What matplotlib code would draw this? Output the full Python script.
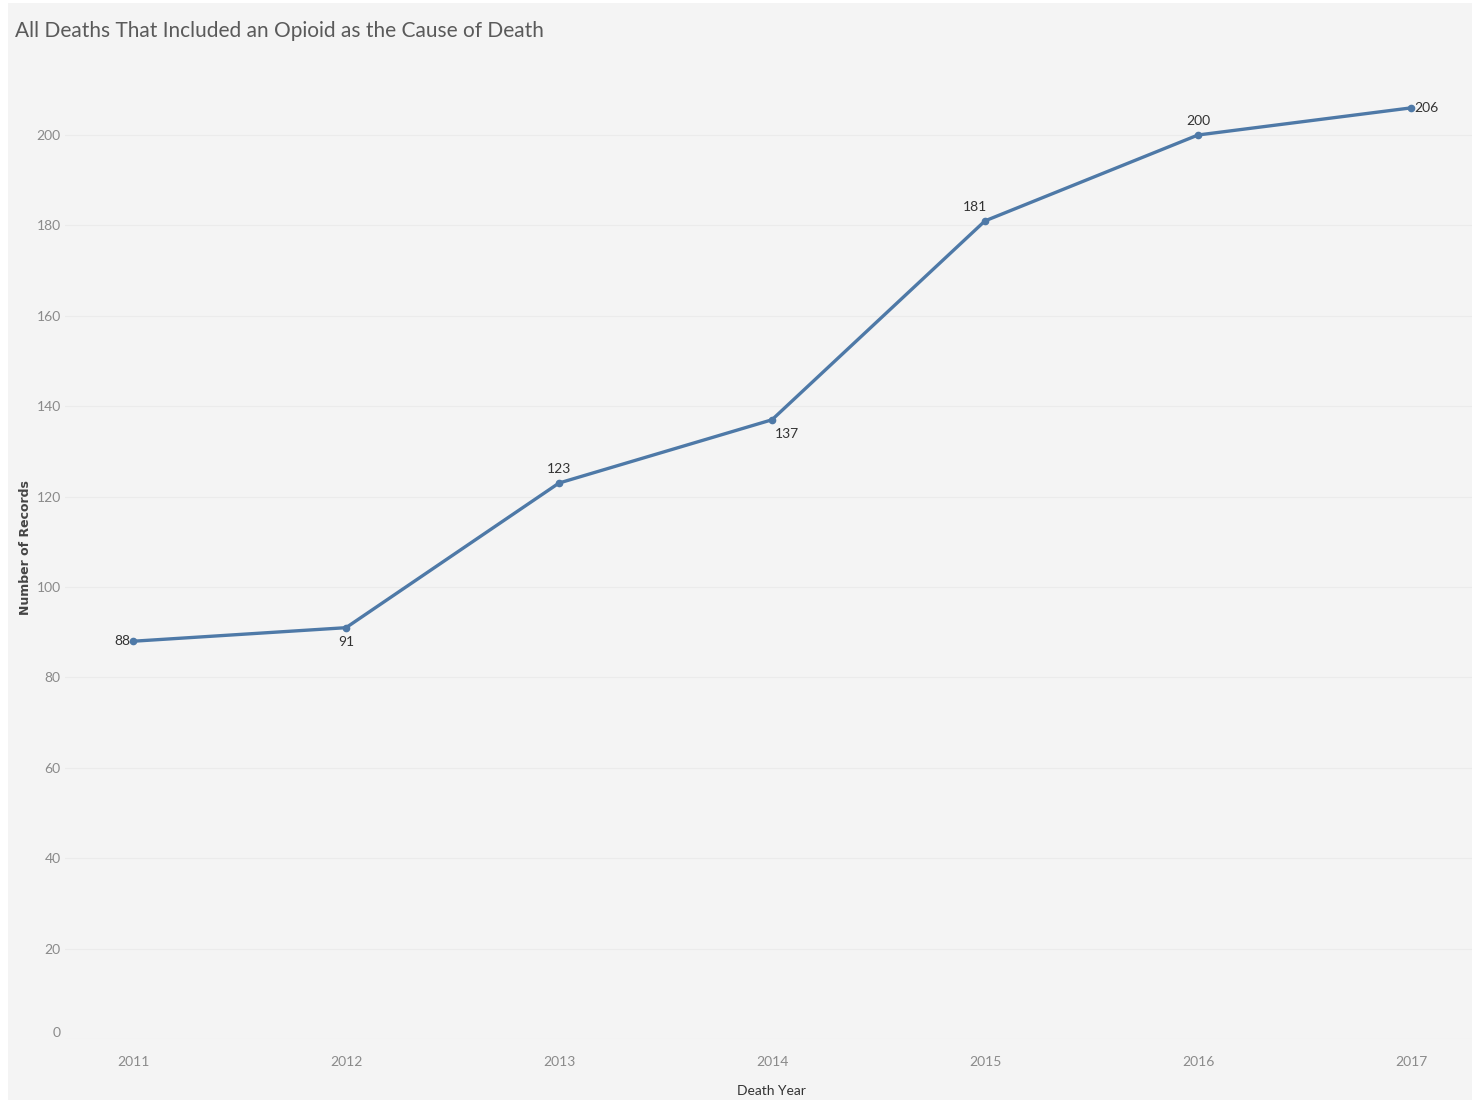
import matplotlib.pyplot as plt
import matplotlib.patches as mpatches
from matplotlib import font_manager

# Death counts by year
years = [2011, 2012, 2013, 2014, 2015, 2016, 2017]
records = [88, 91, 123, 137, 181, 200, 206]
yticks = [0, 20, 40, 60, 80, 100, 120, 140, 160, 180, 200]

# label offsets in pixels (dx, dy, ha, va)
label_pos = [
    (-3, 0, 'right', 'center'),
    (0, -8, 'center', 'top'),
    (0, 8, 'center', 'bottom'),
    (3, -8, 'left', 'top'),
    (-10, 8, 'center', 'bottom'),
    (0, 8, 'center', 'bottom'),
    (3, 0, 'left', 'center'),
]

names = {f.name for f in font_manager.fontManager.ttflist}
FONT = ['Liberation Sans Narrow', 'Lato', 'Open Sans', 'DejaVu Sans']
FONT = [f for f in FONT if f in names] or ['DejaVu Sans']
plt.rcParams['font.family'] = FONT

LINE = '#4e79a7'
BG = '#f4f4f4'

W, H = 1474, 1102
fig = plt.figure(figsize=(W / 100, H / 100), dpi=100)
fig.patch.set_facecolor('white')
fig.patches.append(mpatches.Rectangle((8 / W, 2 / H), 1464 / W, 1097 / H,
                                      transform=fig.transFigure,
                                      facecolor=BG, edgecolor='none', zorder=-10))

# axes: y=0 at px 1039, 4.52 px per unit; 213 px per year
ax_left, ax_right = 65, 1472
ax_bottom, ax_top = 1039, 50
ax = fig.add_axes([ax_left / W, 1 - ax_bottom / H,
                   (ax_right - ax_left) / W, (ax_bottom - ax_top) / H])
ax.set_facecolor(BG)
ax.set_xlim(2011 - 68 / 213, 2017 + 61 / 213)
ax.set_ylim(0, (ax_bottom - ax_top) / 4.52)

ax.plot(years, records, color=LINE, linewidth=2.4, marker='o',
        markersize=4.5, solid_capstyle='round', zorder=3)

for x, y, (dx, dy, ha, va) in zip(years, records, label_pos):
    ax.annotate(str(y), (x, y), xytext=(dx * 0.72, dy * 0.72),
                textcoords='offset points', ha=ha, va=va,
                fontsize=10, color='#333333')

ax.set_yticks(yticks)
ax.set_xticks(years)
ax.set_xticklabels([str(y) for y in years])
ax.grid(axis='y', color='#ebebeb', linewidth=0.8)
ax.set_axisbelow(True)
ax.tick_params(axis='both', length=0, labelsize=10, labelcolor='#8a8a8a')
ax.tick_params(axis='y', pad=3)
ax.tick_params(axis='x', pad=12)
for s in ax.spines.values():
    s.set_visible(False)

# keep the 0 label inside the plot area
for lbl in ax.get_yticklabels():
    if lbl.get_text() == '0':
        lbl.set_va('bottom')

fig.text(15 / W, 1 - 31 / H, 'All Deaths That Included an Opioid as the Cause of Death',
         fontsize=15, color='#5a5a5a', ha='left', va='center')
fig.text(26 / W, 1 - 548 / H, 'Number of Records', rotation=90,
         fontsize=9, color='#444444', fontweight='bold', ha='center', va='center',
         family='DejaVu Sans')
fig.text(771 / W, 1 - 1091 / H, 'Death Year', fontsize=10, color='#333333',
         ha='center', va='center')

fig.savefig('out.png', dpi=100, facecolor='white')
